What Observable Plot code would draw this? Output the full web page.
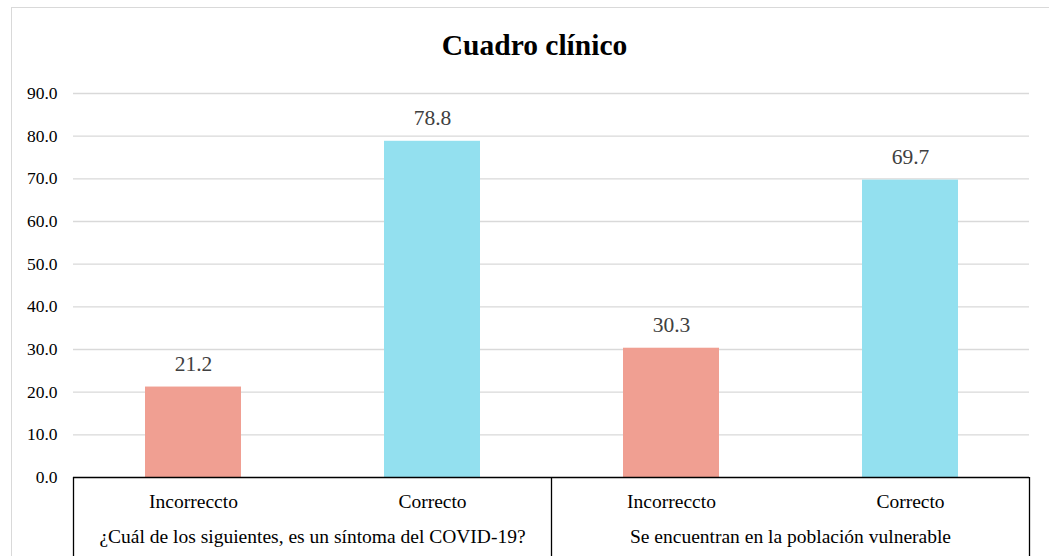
<!DOCTYPE html>
<html>
<head>
<meta charset="utf-8">
<script src="https://cdn.jsdelivr.net/npm/d3@7"></script>
<script src="https://cdn.jsdelivr.net/npm/@observablehq/plot@0.6"></script>
<style>
  html, body { margin: 0; padding: 0; background: #fff; overflow: hidden; }
  #wrap { position: relative; width: 1049px; height: 556px; overflow: hidden; }
  #frame { position: absolute; left: 11px; top: 7px; width: 1100px; height: 700px; border: 1px solid #d9d9d9; box-sizing: border-box; }
  #chart { position: absolute; left: 0; top: 0; }
</style>
</head>
<body>
<div id="wrap"><div id="frame"></div><div id="chart"></div></div>
<script>
const title = "Cuadro clínico";
const groups = ["¿Cuál de los siguientes, es un síntoma del COVID-19?", "Se encuentran en la población vulnerable"];
const categories = ["Incorreccto", "Correcto"];
const valuesGroup1 = [21.2, 78.8];
const valuesGroup2 = [30.3, 69.7];
const yTicks = [0, 10, 20, 30, 40, 50, 60, 70, 80, 90];
const colors = ["#F09F92", "#93E0EF"];

const allValues = [valuesGroup1, valuesGroup2];
const data = groups.flatMap((g, gi) => categories.map((c, ci) => ({
  key: gi + "|" + c, group: g, gi, category: c, value: allValues[gi][ci]
})));
const keys = data.map(d => d.key);
const font = "Liberation Serif";

const chart = Plot.plot({
  width: 1049,
  height: 556,
  marginLeft: 73,
  marginRight: 20,
  marginTop: 93,
  marginBottom: 79,
  style: { fontFamily: font, background: "transparent", overflow: "visible" },
  x: { domain: keys, paddingInner: 0.6, paddingOuter: 0.3, axis: null },
  y: { domain: [0, 90] },
  color: { domain: categories, range: colors },
  marks: [
    Plot.ruleY(yTicks.filter(d => d > 0), { stroke: "#d9d9d9", strokeWidth: 1.3 }),
    Plot.axisY(yTicks, { tickSize: 0, tickPadding: 16, tickFormat: d => d.toFixed(1), fontSize: 17.5, fontFamily: font, fill: "#000", label: null }),
    Plot.barY(data, { x: "key", y: "value", fill: "category" }),
    Plot.ruleY([0], { stroke: "#000", strokeWidth: 1.3 }),
    Plot.text(data, { x: "key", y: "value", text: d => d.value.toFixed(1), dy: -16, lineAnchor: "bottom", fontSize: 21.5, fontFamily: font, fill: "#404040" }),
    Plot.text(data, { x: "key", y: 0, text: "category", dy: 30, lineAnchor: "bottom", fontSize: 19.5, fontFamily: font, fill: "#000" }),
    Plot.text([title], { frameAnchor: "top", dx: -17, dy: -39, lineAnchor: "bottom", fontSize: 29.5, fontFamily: font, fontWeight: "bold", fill: "#000" })
  ]
});

document.getElementById("chart").appendChild(chart);

// category table separators and group labels, positioned with Plot's own scales
const xs = chart.scale("x");
const ys = chart.scale("y");
const step = xs.step, bw = xs.bandwidth;
const start = k => xs.apply(k) - (step - bw) / 2;
const y0 = ys.apply(0);
const bounds = [start(keys[0]), start(keys[2]), start(keys[3]) + step];
const g = d3.select(chart).append("g");
g.selectAll("line").data(bounds).join("line")
  .attr("x1", d => d).attr("x2", d => d)
  .attr("y1", y0).attr("y2", 600)
  .attr("stroke", "#000").attr("stroke-width", 1.3);
g.selectAll("text").data(groups).join("text")
  .attr("x", (d, i) => (bounds[i] + bounds[i + 1]) / 2)
  .attr("y", y0 + 66)
  .attr("text-anchor", "middle")
  .attr("font-family", font)
  .attr("font-size", 19.5)
  .attr("fill", "#000")
  .text(d => d);
</script>
</body>
</html>
